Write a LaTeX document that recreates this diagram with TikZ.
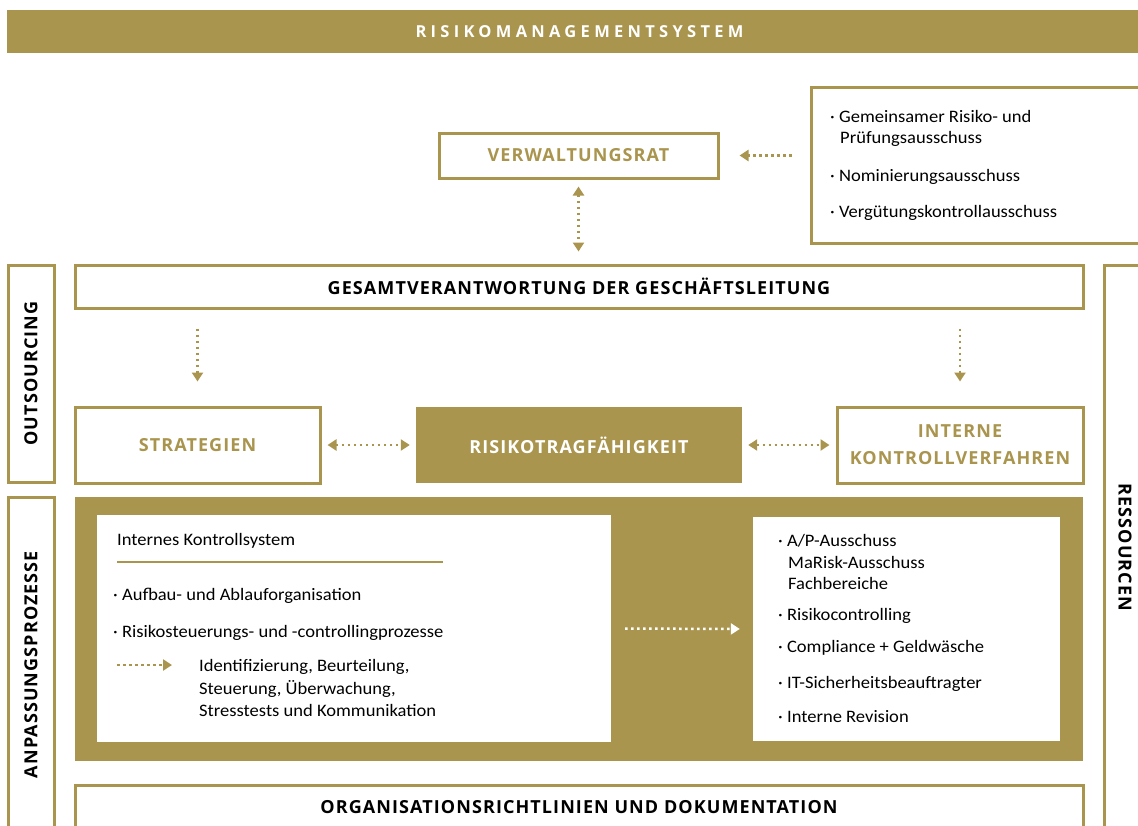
\documentclass[tikz,border=0pt]{standalone}
\usepackage{fontspec}
\usetikzlibrary{arrows.meta}
\setmainfont{Carlito}[FakeStretch=1.06]
\newfontfamily\hf{Open Sans}[LetterSpace=6]
\newfontfamily\tf{Open Sans}[LetterSpace=26]
\definecolor{gold}{HTML}{AA954E}
\begin{document}
\begin{tikzpicture}[x=1pt,y=-1pt,
  frame/.style={draw=gold,line width=3pt,fill=white,inner sep=0pt},
  solidbox/.style={fill=gold,draw=none,inner sep=0pt},
  head/.style={font=\hf\bfseries\fontsize{18}{27}\selectfont,text=black,align=center},
  ghead/.style={head,text=gold},
  body/.style={font=\fontsize{17.5}{22}\selectfont,anchor=base west,inner sep=0pt,text=black},
  darr/.style={draw=gold,line width=2.5pt,dash pattern=on 2.5pt off 3.5pt,-{Triangle[length=9pt,width=11pt]}},
  ddarr/.style={draw=gold,line width=2.5pt,dash pattern=on 2.5pt off 3.5pt,{Triangle[length=9pt,width=11pt]}-{Triangle[length=9pt,width=11pt]}},
  warr/.style={draw=white,line width=2.5pt,dash pattern=on 2.5pt off 3.5pt,-{Triangle[length=9pt,width=11pt]}}
]
\useasboundingbox (0,0) rectangle (1138,825);
\clip (0,0) rectangle (1138,825);
% title bar
\node[solidbox,minimum width=1145pt,minimum height=43pt,font=\tf\bfseries\fontsize{16.5}{18}\selectfont,text=white] (title) at (579.5,31.5) {RISIKOMANAGEMENTSYSTEM};
% Verwaltungsrat
\node[frame,minimum width=279pt,minimum height=45pt,ghead] (v) at (578.5,155.5) {VERWALTUNGSRAT};
% committees box
\node[frame,minimum width=349pt,minimum height=156pt] (kom) at (985.5,165) {};
\node[body] (k1) at (830,122) {· Gemeinsamer Risiko- und};
\node[body] (k2) at (840,143) {Prüfungsausschuss};
\node[body] (k3) at (830,181) {· Nominierungsausschuss};
\node[body] (k4) at (830,217) {· Vergütungskontrollausschuss};
% side boxes
\node[frame,minimum width=217pt,minimum height=46pt,rotate=90,head] (out) at (31,373.5) {OUTSOURCING};
\node[frame,minimum width=335pt,minimum height=46pt,rotate=90,head] (anp) at (31,664.5) {ANPASSUNGSPROZESSE};
\node[frame,minimum width=565pt,minimum height=42pt,rotate=-90,head] (res) at (1125,547.5) {RESSOURCEN};
% Gesamtverantwortung
\node[frame,minimum width=1008pt,minimum height=43pt,head] (g) at (579,286.5) {GESAMTVERANTWORTUNG DER GESCHÄFTSLEITUNG};
% middle row
\node[frame,minimum width=245pt,minimum height=76pt,ghead] (s) at (197.5,445) {STRATEGIEN};
\node[solidbox,minimum width=326pt,minimum height=76pt,head,text=white] (r) at (579,445) {RISIKOTRAGFÄHIGKEIT};
\node[frame,minimum width=246pt,minimum height=76pt,ghead] (ik) at (960,445) {INTERNE\\KONTROLLVERFAHREN};
% big box
\node[solidbox,minimum width=1008pt,minimum height=264pt] (big) at (579,629) {};
\node[fill=white,draw=none,inner sep=0pt,minimum width=514pt,minimum height=227pt] (li) at (354,628.5) {};
\node[fill=white,draw=none,inner sep=0pt,minimum width=307pt,minimum height=224pt] (ri) at (906.5,629) {};
% left inner texts
\node[body] (ikt) at (117,545) {Internes Kontrollsystem};
\draw[gold,line width=1.5pt] (117,562) -- (443,562);
\node[body] (l1) at (113,600) {· Aufbau- und Ablauforganisation};
\node[body] (l2) at (113,637) {· Risikosteuerungs- und -controllingprozesse};
\node[body] (id1) at (199,671) {Identifizierung, Beurteilung,};
\node[body] (id2) at (199,694) {Steuerung, Überwachung,};
\node[body] (id3) at (199,716) {Stresstests und Kommunikation};
\coordinate (sa) at (117,665);
% right inner texts
\node[body] (r1) at (778,546) {· A/P-Ausschuss};
\node[body] (r2) at (788,568) {MaRisk-Ausschuss};
\node[body] (r3) at (788,589) {Fachbereiche};
\node[body] (r4) at (778,620) {· Risikocontrolling};
\node[body] (r5) at (778,652) {· Compliance + Geldwäsche};
\node[body] (r6) at (778,688) {· IT-Sicherheitsbeauftragter};
\node[body] (r7) at (778,722) {· Interne Revision};
% bottom
\node[frame,minimum width=1008pt,minimum height=45pt,head] (bot) at (579,807.5) {ORGANISATIONSRICHTLINIEN UND DOKUMENTATION};
% arrows
\draw[darr,shorten <=18pt,shorten >=20pt] (kom.west |- v.east) -- (v.east);
\draw[ddarr,shorten <=7pt,shorten >=12pt] (v.south) -- (v.south |- g.north);
\draw[darr,shorten <=19pt,shorten >=24pt] (s.north |- g.south) -- (s.north);
\draw[darr,shorten <=19pt,shorten >=24pt] (ik.north |- g.south) -- (ik.north);
\draw[ddarr,shorten <=6pt,shorten >=6pt] (s.east) -- (r.west);
\draw[ddarr,shorten <=6pt,shorten >=6pt] (r.east) -- (ik.west);
\draw[warr,shorten <=14pt,shorten >=13pt] (li.east) -- (ri.west);
\draw[darr,shorten >=27pt] (sa) -- (sa -| id1.west);
\end{tikzpicture}
\end{document}
